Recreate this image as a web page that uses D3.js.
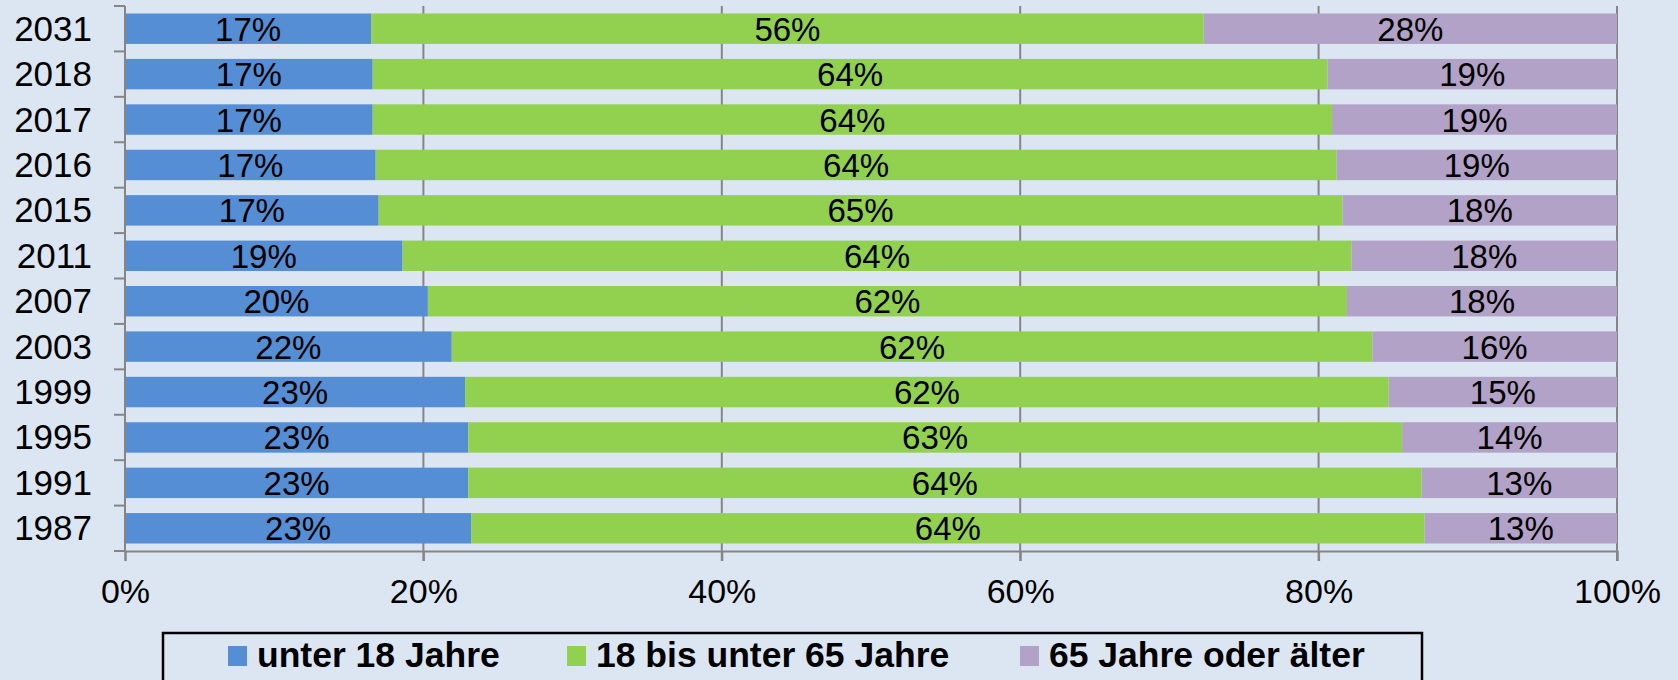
<!DOCTYPE html>
<html lang="de">
<head>
  <meta charset="UTF-8">
  <title>Altersstruktur</title>
  <style>
    html, body { margin: 0; padding: 0; width: 100%; height: 100%; overflow: hidden; background: #dce6f2; }
    svg { display: block; font-family: "Liberation Sans", Arial, sans-serif; }
  </style>
</head>
<body>
  <svg id="chart" width="1678" height="680"></svg>

  <script src="https://d3js.org/d3.v7.min.js"></script>
  <script>
    // Jahre, oben nach unten
    const years = ["2031", "2018", "2017", "2016", "2015", "2011", "2007", "2003", "1999", "1995", "1991", "1987"];
    const under18 = [16.5, 16.6, 16.6, 16.8, 17.0, 18.6, 20.3, 21.9, 22.8, 23.0, 23.0, 23.2];
    const age18to65 = [55.8, 64.0, 64.3, 64.4, 64.6, 63.6, 61.6, 61.7, 61.9, 62.6, 63.9, 63.9];
    const over65 = [27.7, 19.4, 19.1, 18.8, 18.4, 17.8, 18.1, 16.4, 15.3, 14.4, 13.1, 12.9];
    const seriesNames = ["unter 18 Jahre", "18 bis unter 65 Jahre", "65 Jahre oder älter"];
    const seriesColors = ["#558ed5", "#92d050", "#b3a2c7"];
    const xTicks = [0, 20, 40, 60, 80, 100];

    const W = 1678, H = 680;
    const margin = { left: 125, right: 61, top: 6, bottom: 129 };
    const svg = d3.select("#chart");

    const rows = years.map((y, i) => ({ year: y, vals: [under18[i], age18to65[i], over65[i]] }));

    const x = d3.scaleLinear().domain([0, 100]).range([margin.left, W - margin.right]);
    const y = d3.scaleBand().domain(years).range([margin.top, H - margin.bottom]).paddingInner(0.33).paddingOuter(0.165);

    // Gitterlinien
    svg.append("g")
      .selectAll("line")
      .data(xTicks.slice(1))
      .join("line")
      .attr("x1", d => x(d)).attr("x2", d => x(d))
      .attr("y1", margin.top).attr("y2", H - margin.bottom + 10)
      .attr("stroke", "#858585").attr("stroke-width", 2);

    // Balken
    const stack = d3.stack().keys([0, 1, 2]).value((d, k) => d.vals[k]);
    const layers = stack(rows);

    const gBars = svg.append("g");
    layers.forEach((layer, k) => {
      gBars.append("g")
        .selectAll("rect")
        .data(layer)
        .join("rect")
        .attr("x", d => x(d[0]) + (k === 0 ? 1 : 0))
        .attr("y", d => y(d.data.year))
        .attr("width", d => x(d[1]) - x(d[0]) - (k === 0 ? 1 : 0))
        .attr("height", y.bandwidth())
        .attr("fill", seriesColors[k]);

      gBars.append("g")
        .selectAll("text")
        .data(layer)
        .join("text")
        .attr("x", d => (x(d[0]) + x(d[1])) / 2)
        .attr("y", d => y(d.data.year) + y.bandwidth() / 2 + 12)
        .attr("text-anchor", "middle")
        .attr("font-size", 33)
        .attr("fill", "#000")
        .text(d => Math.round(d[1] - d[0]) + "%");
    });

    // y-Achse
    const yAxis = svg.append("g").attr("transform", `translate(${margin.left},0)`);
    yAxis.append("line")
      .attr("x1", 0).attr("x2", 0)
      .attr("y1", margin.top).attr("y2", H - margin.bottom)
      .attr("stroke", "#858585").attr("stroke-width", 2);
    const rowH = (H - margin.bottom - margin.top) / years.length;
    yAxis.selectAll("line.tick")
      .data(d3.range(years.length + 1))
      .join("line")
      .attr("class", "tick")
      .attr("x1", -11).attr("x2", 0)
      .attr("y1", i => margin.top + i * rowH).attr("y2", i => margin.top + i * rowH)
      .attr("stroke", "#858585").attr("stroke-width", 2);
    yAxis.selectAll("text")
      .data(years)
      .join("text")
      .attr("x", -33)
      .attr("y", d => y(d) + y.bandwidth() / 2 + 12)
      .attr("text-anchor", "end")
      .attr("font-size", 35)
      .text(d => d);

    // x-Achse
    const xAxis = d3.axisBottom(x).tickValues(xTicks).tickFormat(d => d + "%").tickSize(10).tickPadding(18);
    const gx = svg.append("g").attr("transform", `translate(0,${H - margin.bottom})`).call(xAxis);
    gx.select(".domain").attr("stroke", "#858585").attr("stroke-width", 2);
    gx.selectAll(".tick line").attr("stroke", "#858585").attr("stroke-width", 2);
    gx.selectAll(".tick text").attr("font-size", 34).attr("fill", "#000")
      .attr("font-family", "'Liberation Sans', Arial, sans-serif");

    // Legende
    const legend = svg.append("g");
    legend.append("rect")
      .attr("x", 163).attr("y", 633).attr("width", 1259).attr("height", 60)
      .attr("fill", "none").attr("stroke", "#000").attr("stroke-width", 2.5);
    const legendX = [228, 567, 1020];
    seriesNames.forEach((name, k) => {
      legend.append("rect")
        .attr("x", legendX[k]).attr("y", 646).attr("width", 19).attr("height", 20)
        .attr("fill", seriesColors[k]);
      legend.append("text")
        .attr("x", legendX[k] + 29).attr("y", 667)
        .attr("font-size", 35.5).attr("font-weight", "bold")
        .text(name);
    });
  </script>
</body>
</html>
